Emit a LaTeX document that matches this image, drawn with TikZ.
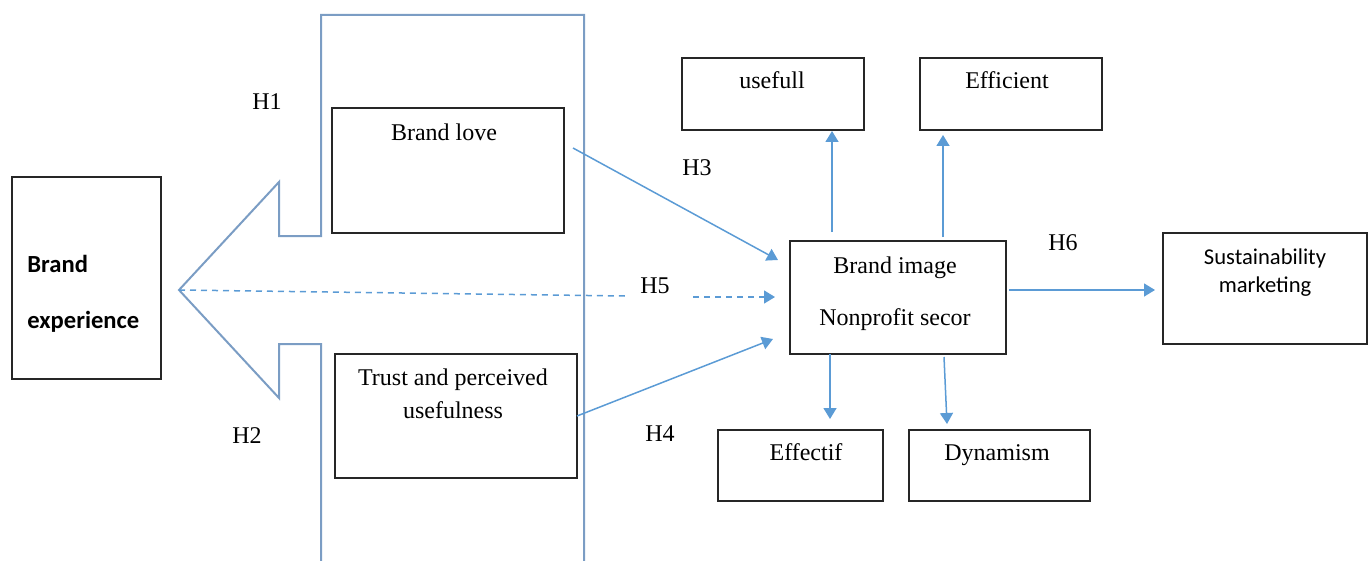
\documentclass[tikz,border=0pt]{standalone}
\usepackage{fontspec}
\setmainfont{Liberation Serif}
\newfontfamily\calibri{Carlito}
\usetikzlibrary{arrows.meta}
\definecolor{arrblue}{HTML}{5B9BD5}
\definecolor{shapeblue}{HTML}{7B9DC4}
\tikzset{
  box/.style={draw=black!85, line width=0.75pt, rectangle, inner sep=0pt},
  txt/.style={font=\fontsize{12}{14}\selectfont, inner sep=0pt, anchor=base},
  cal/.style={font=\calibri\fontsize{11.3}{13}\selectfont, inner sep=0pt, anchor=base},
  calb/.style={font=\calibri\bfseries\fontsize{12.3}{14}\selectfont, inner sep=0pt, anchor=base west},
  conn/.style={draw=arrblue, line width=0.75pt, -{Triangle[length=5.5pt,width=6.5pt]}},
  dconn/.style={draw=arrblue, line width=0.75pt, dash pattern=on 3pt off 2.5pt},
  bigarrow/.style={draw=shapeblue, line width=1pt, line join=miter}
}
\newcommand{\boxat}[5]{\node[box, minimum width={(#4-#2)*0.5pt}, minimum height={(#5-#3)*0.5pt}] (#1) at ({(#2+#4)/2},{(#3+#5)/2}) {};}
\begin{document}
\begin{tikzpicture}[x=0.5pt,y=-0.5pt]
\useasboundingbox (0,0) rectangle (1368,561);
\clip (0,0) rectangle (1368,561);
% big arrow shape
\draw[bigarrow] (321,562) -- (321,344) -- (279,344) -- (279,398) -- (179,290)
  -- (279,182) -- (279,236) -- (321,236) -- (321,15) -- (584,15) -- (584,562);
% boxes
\boxat{exp}{12}{177}{161}{379}
\boxat{love}{332}{108}{564}{233}
\boxat{trust}{335}{354}{577}{478}
\boxat{img}{790}{241}{1006}{354}
\boxat{use}{682}{58}{864}{130}
\boxat{eff}{920}{58}{1102}{130}
\boxat{effc}{718}{430}{883}{501}
\boxat{dyn}{909}{430}{1090}{501}
\boxat{sus}{1163}{233}{1367}{344}
% texts
\node[calb] (t1) at (27,272) {Brand};
\node[calb] (t2) at (27,328) {experience};
\node[txt] (t3) at (444,141) {Brand love};
\node[txt] (t4) at (453,385) {Trust and perceived};
\node[txt] (t5) at (453,418) {usefulness};
\node[txt] (t6) at (895,273) {Brand image};
\node[txt] (t7) at (895,325) {Nonprofit secor};
\node[txt] (t8) at (772,89) {usefull};
\node[txt] (t9) at (1007,89) {Efficient};
\node[txt] (t10) at (806,460) {Effectif};
\node[txt] (t11) at (997,460) {Dynamism};
\node[cal] (t12) at (1265,264) {Sustainability};
\node[cal] (t13) at (1265,292) {marketing};
% hypothesis labels
\node[txt] (h1) at (267,110) {H1};
\node[txt] (h2) at (247,443) {H2};
\node[txt] (h3) at (697,176) {H3};
\node[txt] (h4) at (660,441) {H4};
\node[txt] (h5) at (655,293) {H5};
\node[txt] (h6) at (1063,250) {H6};
% connector coordinates
\coordinate (tip) at (179,290);
\coordinate (d1) at (625,296);
\coordinate (d2) at (693,297);
\coordinate (d3) at (775,297);
\coordinate (la) at (573,148);
\coordinate (lb) at (778,260);
\coordinate (ta) at (577,416);
\coordinate (tb) at (773,339);
\coordinate (u1a) at (832,232);
\coordinate (u1b) at (832,131);
\coordinate (u2a) at (943,237);
\coordinate (u2b) at (943,135);
\coordinate (dn1a) at (830,354);
\coordinate (dn1b) at (830,419);
\coordinate (dn2a) at (944,357);
\coordinate (dn2b) at (947,424);
\coordinate (sa) at (1009,290);
\coordinate (sb) at (1155,290);
% connectors
\draw[dconn] (tip) -- (d1);
\draw[dconn, -{Triangle[length=5.5pt,width=6.5pt]}] (d2) -- (d3);
\draw[conn] (la) -- (lb);
\draw[conn] (ta) -- (tb);
\draw[conn] (u1a) -- (u1b);
\draw[conn] (u2a) -- (u2b);
\draw[conn] (dn1a) -- (dn1b);
\draw[conn] (dn2a) -- (dn2b);
\draw[conn] (sa) -- (sb);
\end{tikzpicture}
\end{document}
